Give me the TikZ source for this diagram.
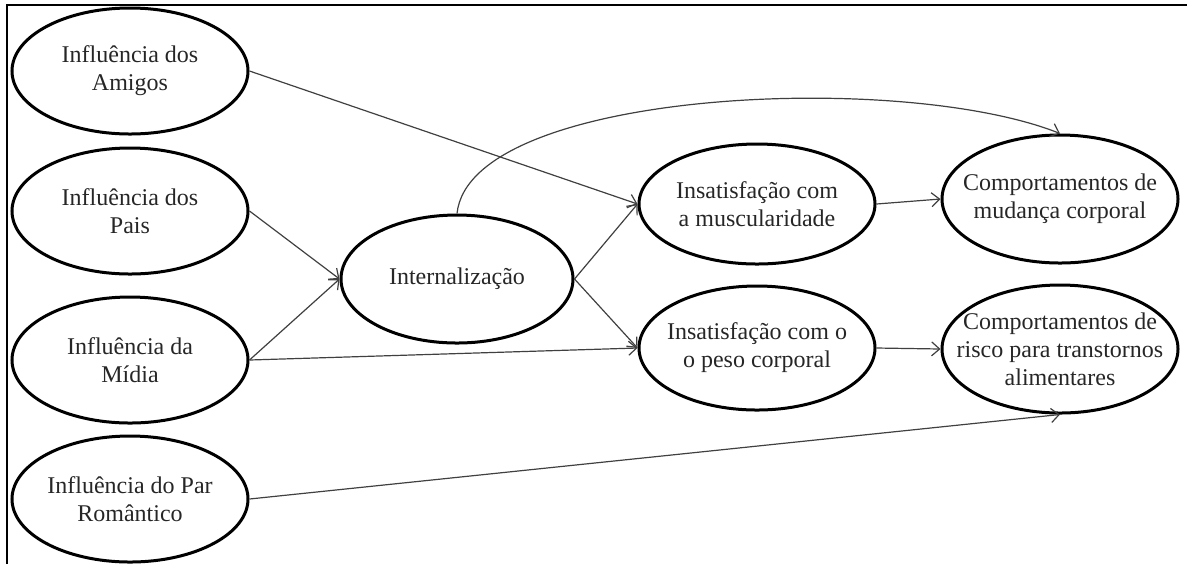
\documentclass[tikz,border=0pt]{standalone}
\usepackage{fontspec}
\setmainfont{Liberation Serif}
\usetikzlibrary{shapes.geometric,arrows.meta}

\definecolor{LineGray}{rgb}{0.25,0.25,0.25}

\begin{document}
\begin{tikzpicture}[x=0.5pt,y=-0.5pt,
  construct/.style={ellipse,draw,line width=1.5pt,inner xsep=-14pt,inner ysep=0pt,
    minimum width=118pt,minimum height=63pt,align=center,
    font=\fontsize{12}{14}\selectfont,text=black!85},
  path/.style={draw=LineGray,line width=0.6pt,-{Straight Barb[length=4pt,width=7pt]}}]
\useasboundingbox (0,0) rectangle (1187,564);
\draw[line width=1.2pt] (7,564) -- (7,5) -- (1187,5);

\node[construct] (amigos) at (130,71) {Influência dos\\Amigos};
\node[construct] (pais) at (130,211) {Influência dos\\Pais};
\node[construct] (midia) at (130,360) {Influência da\\Mídia};
\node[construct] (par) at (130,499) {Influência do Par\\Romântico};

\node[construct,minimum width=116pt,minimum height=64pt] (intern) at (457,279) {Internalização};

\node[construct,minimum height=60pt] (musc) at (757,204) {Insatisfação com\\a muscularidade};
\node[construct,minimum height=62pt] (peso) at (757,348) {Insatisfação com o\\o peso corporal};

\node[construct,minimum height=64pt] (mudanca) at (1060,199) {Comportamentos de\\mudança corporal};
\node[construct,minimum height=64pt] (risco) at (1060,349) {Comportamentos de\\risco para transtornos\\alimentares};

\draw[path] (amigos.east) -- (musc.west);
\draw[path] (pais.east) -- (intern.west);
\draw[path] (midia.east) -- (intern.west);
\draw[path] (midia.east) -- (peso.west);
\draw[path] (intern.east) -- (musc.west);
\draw[path] (intern.east) -- (peso.west);
\draw[path] (intern.north) .. controls (470,90) and (900,70) .. (mudanca.north);
\draw[path] (musc.east) -- (mudanca.west);
\draw[path] (peso.east) -- (risco.west);
\draw[path] (par.east) -- (risco.south);

\end{tikzpicture}
\end{document}
